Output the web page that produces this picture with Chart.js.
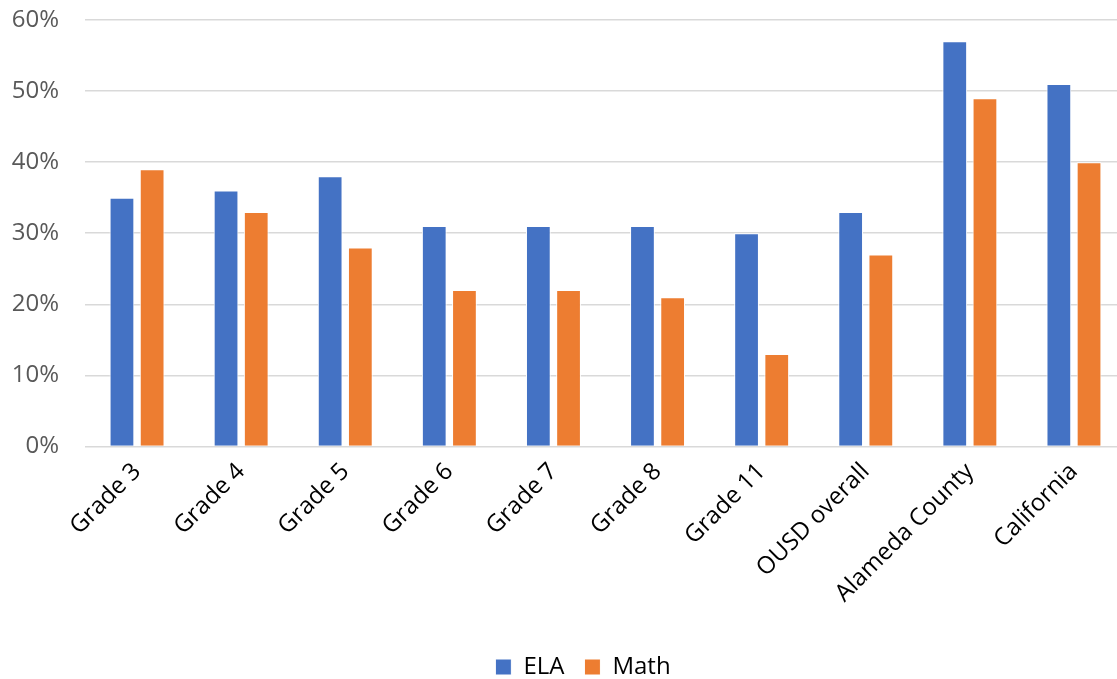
<!DOCTYPE html>
<html>
<head>
<meta charset="utf-8">
<script src="https://cdn.jsdelivr.net/npm/chart.js@4/dist/chart.umd.min.js"></script>
<style>
  html, body { margin: 0; padding: 0; background: #ffffff; overflow: hidden; }
  #wrap { position: relative; width: 1126px; height: 679px; }
</style>
</head>
<body>
<div id="wrap"><canvas id="grafica"></canvas></div>
<script>
// Datos
const categorias = ["Grade 3", "Grade 4", "Grade 5", "Grade 6", "Grade 7", "Grade 8", "Grade 11", "OUSD overall", "Alameda County", "California"];
const valoresELA = [35, 36, 38, 31, 31, 31, 30, 33, 57, 51];
const valoresMath = [39, 33, 28, 22, 22, 21, 13, 27, 49, 40];
const ticksY = [0, 10, 20, 30, 40, 50, 60];

const fuente = "'Open Sans', 'Noto Sans', sans-serif";

// La leyenda queda centrada un poco a la derecha del lienzo y más abajo
const moverLeyenda = {
    id: 'moverLeyenda',
    afterLayout(chart) {
        if (!chart.legend) return;
        chart.legend.left += 32;
        chart.legend.top += 10;
        chart.legend.bottom += 10;
    }
};

new Chart(document.getElementById('grafica'), {
    type: 'bar',
    data: {
        labels: categorias,
        datasets: [
            {
                label: 'ELA',
                data: valoresELA,
                backgroundColor: '#4472c4',
                borderColor: '#ffffff',
                borderWidth: 1,
                categoryPercentage: 0.58,
                barPercentage: 0.82
            },
            {
                label: 'Math',
                data: valoresMath,
                backgroundColor: '#ed7d31',
                borderColor: '#ffffff',
                borderWidth: 1,
                categoryPercentage: 0.58,
                barPercentage: 0.82
            }
        ]
    },
    plugins: [moverLeyenda],
    options: {
        responsive: true,
        maintainAspectRatio: false,
        animation: false,
        layout: { padding: { top: 0, right: 0, left: 8, bottom: 0 } },
        plugins: {
            tooltip: { enabled: false },
            legend: {
                position: 'bottom',
                labels: {
                    color: '#000000',
                    font: { family: fuente, size: 24 },
                    boxWidth: 16,
                    boxHeight: 16,
                    padding: 20,
                    useBorderRadius: false
                }
            }
        },
        scales: {
            x: {
                grid: { display: false },
                border: { display: false },
                afterFit: axis => { axis.height += 14; },
                ticks: {
                    color: '#000000',
                    font: { family: fuente, size: 24 },
                    minRotation: 45,
                    maxRotation: 45,
                    autoSkip: false
                }
            },
            y: {
                min: 0,
                max: 60,
                afterBuildTicks: axis => { axis.ticks = ticksY.map(v => ({ value: v })); },
                afterFit: axis => { axis.width = 77; axis.paddingTop = 20; axis.paddingBottom = 0; },
                grid: { color: '#d9d9d9', lineWidth: 1.5, drawTicks: false },
                border: { display: false },
                ticks: {
                    color: '#595959',
                    font: { family: fuente, size: 24 },
                    padding: 26,
                    callback: value => value + '%'
                }
            }
        }
    }
});
</script>
</body>
</html>
